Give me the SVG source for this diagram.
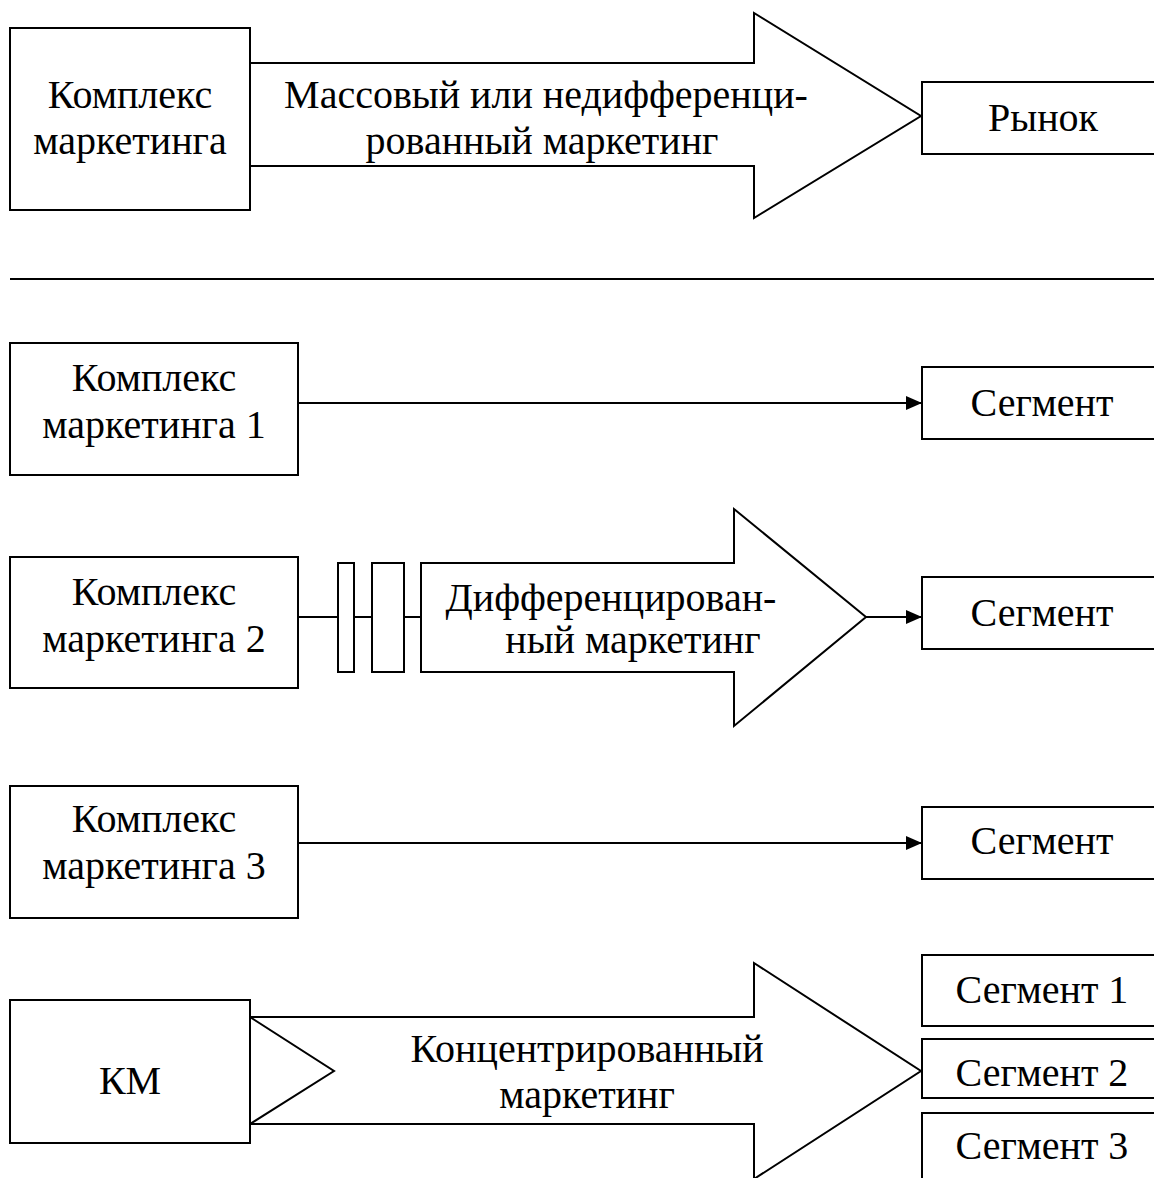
<svg xmlns="http://www.w3.org/2000/svg" width="1154" height="1178" viewBox="0 0 1154 1178">
<style>
.b{fill:#fff;stroke:#000;stroke-width:2}
.l{fill:none;stroke:#000;stroke-width:2}
.t{font-family:"Liberation Serif","Times New Roman",serif;font-size:40px;fill:#000;text-anchor:middle}
</style>
<defs>
<marker id="ah" markerUnits="userSpaceOnUse" markerWidth="16" markerHeight="14" refX="16" refY="7" orient="auto">
<path d="M0,0 L16,7 L0,14 z" fill="#000"/>
</marker>
</defs>
<rect width="1154" height="1178" fill="#fff"/>

<g id="connectors">
<polygon id="arrow-mass" class="b" points="250,63 754,63 754,13 921,116 754,218 754,166 250,166"/>
<line class="l" x1="10" y1="279" x2="1154" y2="279"/>
<line class="l" x1="298" y1="403" x2="922" y2="403" marker-end="url(#ah)"/>
<line class="l" x1="298" y1="617" x2="338" y2="617"/>
<line class="l" x1="354" y1="617" x2="372" y2="617"/>
<line class="l" x1="404" y1="617" x2="421" y2="617"/>
<rect class="b" x="338" y="563" width="16" height="109"/>
<rect class="b" x="372" y="563" width="32" height="109"/>
<polygon id="arrow-diff" class="b" points="421,563 734,563 734,509 866,617 734,726 734,672 421,672"/>
<line class="l" x1="866" y1="617" x2="922" y2="617" marker-end="url(#ah)"/>
<line class="l" x1="298" y1="843" x2="922" y2="843" marker-end="url(#ah)"/>
<polygon id="arrow-conc" class="b" points="250,1017 754,1017 754,963 921,1071 754,1179 754,1124 250,1124 334,1071"/>
</g>

<g id="labels">
<text class="t" x="546" y="108">Массовый или недифференци-</text>
<text class="t" x="542" y="154">рованный маркетинг</text>
<text class="t" x="611" y="611">Дифференцирован-</text>
<text class="t" x="633" y="653">ный маркетинг</text>
<text class="t" x="587" y="1062">Концентрированный</text>
<text class="t" x="587" y="1108">маркетинг</text>
</g>

<g id="km-mass">
<rect class="b" x="10" y="28" width="240" height="182"/>
<text class="t" x="130" y="108">Комплекс</text>
<text class="t" x="130" y="154">маркетинга</text>
</g>
<g id="market">
<rect class="b" x="922" y="82" width="240" height="72"/>
<text class="t" x="1043" y="131">Рынок</text>
</g>

<g id="km1">
<rect class="b" x="10" y="343" width="288" height="132"/>
<text class="t" x="154" y="391">Комплекс</text>
<text class="t" x="154" y="438">маркетинга 1</text>
</g>
<g id="seg-a">
<rect class="b" x="922" y="367" width="240" height="72"/>
<text class="t" x="1042" y="416">Сегмент</text>
</g>

<g id="km2">
<rect class="b" x="10" y="557" width="288" height="131"/>
<text class="t" x="154" y="605">Комплекс</text>
<text class="t" x="154" y="652">маркетинга 2</text>
</g>
<g id="seg-b">
<rect class="b" x="922" y="577" width="240" height="72"/>
<text class="t" x="1042" y="626">Сегмент</text>
</g>

<g id="km3">
<rect class="b" x="10" y="786" width="288" height="132"/>
<text class="t" x="154" y="832">Комплекс</text>
<text class="t" x="154" y="879">маркетинга 3</text>
</g>
<g id="seg-c">
<rect class="b" x="922" y="807" width="240" height="72"/>
<text class="t" x="1042" y="854">Сегмент</text>
</g>

<g id="km">
<rect class="b" x="10" y="1000" width="240" height="143"/>
<text class="t" x="130" y="1094">КМ</text>
</g>
<g id="seg1">
<rect class="b" x="922" y="955" width="240" height="71"/>
<text class="t" x="1042" y="1003">Сегмент 1</text>
</g>
<g id="seg2">
<rect class="b" x="922" y="1039" width="240" height="59"/>
<text class="t" x="1042" y="1086">Сегмент 2</text>
</g>
<g id="seg3">
<rect class="b" x="922" y="1113" width="240" height="80"/>
<text class="t" x="1042" y="1159">Сегмент 3</text>
</g>
</svg>
